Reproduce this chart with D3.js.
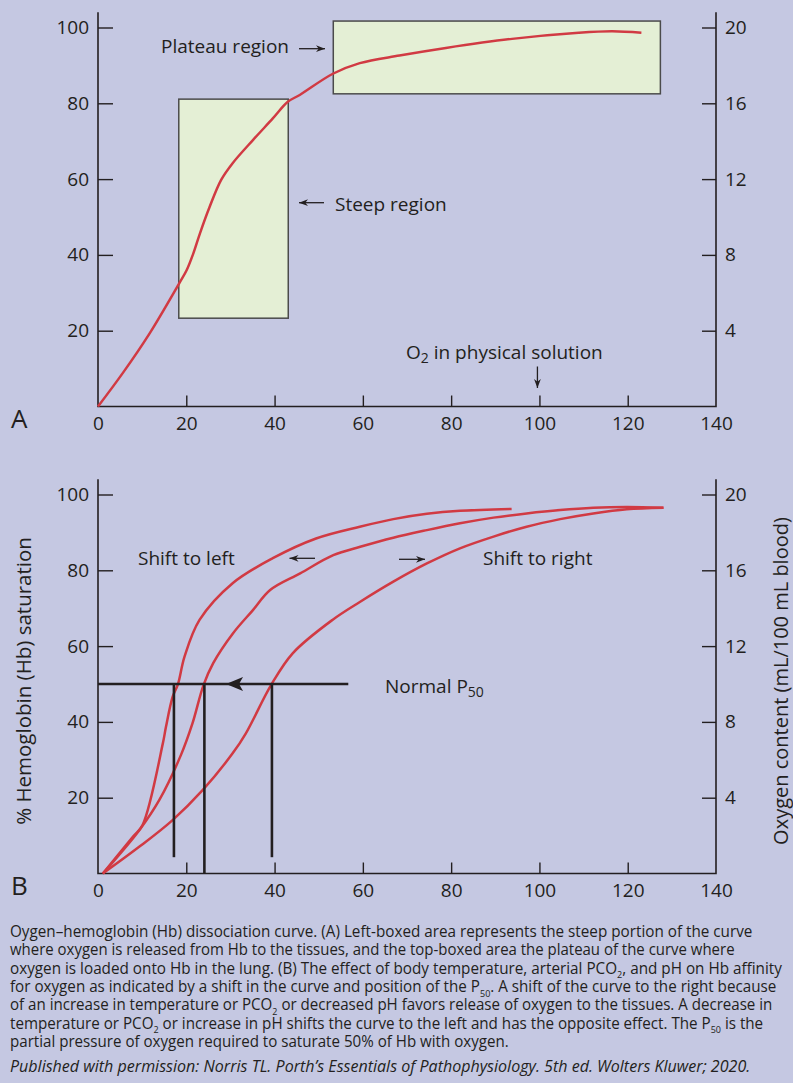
<!DOCTYPE html>
<html>
<head>
<meta charset="utf-8">
<script src="https://cdn.jsdelivr.net/npm/d3@7"></script>
<style>
  body { margin: 0; background: #c5c8e2; }
  svg { display: block; }
  text { font-family: 'Open Sans', sans-serif; fill: #231f20; }
</style>
</head>
<body>
<script>
// Panel A: single dissociation curve (PO2 mmHg vs % saturation)
const pO2A = [0, 5.6, 11.7, 18.4, 20.1, 21.6, 23.1, 25.3, 27.9, 30.5, 35.1, 39.6, 43, 45.7, 53.2, 59.3, 68.3, 78.8, 93.8, 108.9, 116.5, 123.1];
const satA = [0, 8.8, 19.3, 32.5, 36, 40.4, 45.7, 52.7, 59.8, 64.2, 70.3, 76, 80.4, 82.2, 87.8, 90.6, 92.6, 94.6, 97, 98.6, 99, 98.6];

// Panel B: shifted curves
const pO2Left = [1.1, 7.9, 10.1, 14.7, 15.4, 16.9, 18.1, 19.6, 23, 30.5, 39.6, 49.4, 59.3, 66.9, 74.5, 82, 93.7];
const satLeft = [0, 9.7, 12.8, 34.4, 38.7, 46.6, 49.9, 57.2, 66.9, 76.6, 83.2, 88.4, 91.5, 93.5, 94.9, 95.7, 96.2];
const pO2Normal = [1.1, 9.4, 13.9, 18.8, 21.4, 23.9, 26.1, 30.6, 35.1, 39, 45.8, 53.3, 59.4, 66.9, 74.5, 82, 89.6, 97.1, 104.7, 112.2, 119.8, 128.1];
const satNormal = [0, 11.5, 19.4, 31.3, 39.6, 49.7, 55.5, 63.4, 69.5, 74.8, 79.2, 84, 86.2, 88.6, 90.6, 92.4, 93.9, 95, 95.9, 96.5, 96.7, 96.5];
const pO2Right = [1.1, 9.4, 16.9, 23.7, 30.5, 33.5, 39.2, 44.1, 53.1, 59.4, 66.9, 74.5, 82, 89.6, 97.1, 104.7, 112.2, 119.8, 128.1];
const satRight = [0, 7.1, 14.1, 22, 31.7, 37, 49.7, 58.1, 66.9, 71.7, 77, 81.8, 85.8, 88.9, 91.5, 93.5, 95, 96.1, 96.5];

// boxes in panel A: [x0, x1, y0, y1]
const steepBox = [18.3, 43.1, 23.3, 81.1];
const plateauBox = [53.3, 127.4, 82.5, 101.7];

// P50 values (left shift, normal, right shift)
const p50s = [17.2, 24.1, 39.4];
const p50Bottom = [4.3, 0, 4.3];

const xTicks = [0, 20, 40, 60, 80, 100, 120, 140];
const yTicks = [20, 40, 60, 80, 100];
const y2Ticks = [4, 8, 12, 16, 20];

const caption = [
  'Oygen\u2013hemoglobin (Hb) dissociation curve. (A) Left-boxed area represents the steep portion of the curve',
  'where oxygen is released from Hb to the tissues, and the top-boxed area the plateau of the curve where',
  'oxygen is loaded onto Hb in the lung. (B) The effect of body temperature, arterial PCO_2, and pH on Hb affinity',
  'for oxygen as indicated by a shift in the curve and position of the P_50. A shift of the curve to the right because',
  'of an increase in temperature or PCO_2 or decreased pH favors release of oxygen to the tissues. A decrease in',
  'temperature or PCO_2 or increase in pH shifts the curve to the left and has the opposite effect. The P_50 is the',
  'partial pressure of oxygen required to saturate 50% of Hb with oxygen.'
];
const captionWidths = [743, 725, 773, 767, 763, 754, 499];
const credit = 'Published with permission: Norris TL. Porth\u2019s Essentials of Pathophysiology. 5th ed. Wolters Kluwer; 2020.';

const width = 793;
const height = 1083;
const ink = '#231f20';
const red = '#d13a43';

const svg = d3.select('body').append('svg')
  .attr('width', width)
  .attr('height', height);

svg.append('rect').attr('width', width).attr('height', height).attr('fill', '#c5c8e2');

const x = d3.scaleLinear().domain([0, 140]).range([98, 716]);
const y = d3.scaleLinear().domain([0, 100]).range([406.5, 27.5]);
const y2 = d3.scaleLinear().domain([0, 20]).range([406.5, 27.5]);

const line = d3.line()
  .x(d => x(d[0]))
  .y(d => y(d[1]))
  .curve(d3.curveCatmullRom.alpha(0.5));

function arrow(g, x1, y1, x2, y2) {
  g.append('line')
    .attr('x1', x1).attr('y1', y1).attr('x2', x2).attr('y2', y2)
    .attr('stroke', ink).attr('stroke-width', 1.3);
  const a = Math.atan2(y2 - y1, x2 - x1);
  const len = 9, half = 3.4;
  const bx = x2 - len * Math.cos(a), by = y2 - len * Math.sin(a);
  const nx = -Math.sin(a) * half, ny = Math.cos(a) * half;
  const mx = x2 - len * 0.7 * Math.cos(a), my = y2 - len * 0.7 * Math.sin(a);
  g.append('path')
    .attr('d', `M${x2},${y2}L${bx + nx},${by + ny}L${mx},${my}L${bx - nx},${by - ny}Z`)
    .attr('fill', ink);
}

function drawAxes(g, letter) {
  const xa = g.append('g')
    .attr('transform', `translate(0,${y(0)})`)
    .call(d3.axisBottom(x).tickValues(xTicks).tickSize(-11).tickPadding(10).tickFormat(d3.format('d')));
  const ya = g.append('g')
    .attr('transform', `translate(${x(0)},0)`)
    .call(d3.axisLeft(y).tickValues(yTicks).tickSize(-15).tickPadding(9));
  const y2a = g.append('g')
    .attr('transform', `translate(${x(140)},0)`)
    .call(d3.axisRight(y2).tickValues(y2Ticks).tickSize(-14).tickPadding(9));

  [xa, ya, y2a].forEach(a => {
    a.attr('font-family', null).attr('font-size', 19).attr('color', ink);
    a.select('.domain').remove();
    a.selectAll('.tick line').attr('stroke-width', 1.4);
  });
  xa.selectAll('.tick').filter(d => d === 0 || d === 140).select('line').remove();

  g.append('path')
    .attr('d', `M${x(0)},${y(104)}V${y(0)}H${x(140)}V${y(104)}`)
    .attr('fill', 'none').attr('stroke', ink).attr('stroke-width', 1.6);

  g.append('text')
    .attr('x', 11).attr('y', y(0) + 21.5)
    .attr('font-size', 26)
    .text(letter);
}

// ---------- Panel A ----------
const gA = svg.append('g');

[steepBox, plateauBox].forEach(b => {
  gA.append('rect')
    .attr('x', x(b[0])).attr('y', y(b[3]))
    .attr('width', x(b[1]) - x(b[0])).attr('height', y(b[2]) - y(b[3]))
    .attr('fill', '#e4efd5').attr('stroke', '#4b4b4b').attr('stroke-width', 1.5);
});

drawAxes(gA, 'A');

gA.append('path')
  .attr('d', line(d3.zip(pO2A, satA)))
  .attr('fill', 'none').attr('stroke', red).attr('stroke-width', 2.5);

gA.append('text').attr('x', 161).attr('y', 52.5).attr('font-size', 19).text('Plateau region');
arrow(gA, 299, 48.7, 325, 48.7);

arrow(gA, 324, 202.7, 299, 202.7);
gA.append('text').attr('x', 335).attr('y', 210.7).attr('font-size', 19).text('Steep region');

const o2 = gA.append('text').attr('x', 406).attr('y', 359).attr('font-size', 19);
o2.append('tspan').text('O');
o2.append('tspan').attr('font-size', 14).attr('dy', 4).text('2');
o2.append('tspan').attr('dy', -4).text(' in physical solution');
arrow(gA, x(100) - 2, 366.5, x(100) - 2, 388);

// ---------- Panel B ----------
const gB = svg.append('g').attr('transform', 'translate(0,467)');

drawAxes(gB, 'B');

[[pO2Left, satLeft], [pO2Normal, satNormal], [pO2Right, satRight]].forEach(([px, sy]) => {
  gB.append('path')
    .attr('d', line(d3.zip(px, sy)))
    .attr('fill', 'none').attr('stroke', red).attr('stroke-width', 2.5);
});

// P50 guide lines
gB.append('line')
  .attr('x1', x(0)).attr('x2', x(56.7)).attr('y1', y(50)).attr('y2', y(50))
  .attr('stroke', ink).attr('stroke-width', 2.6);
p50s.forEach((p, i) => {
  gB.append('line')
    .attr('x1', x(p)).attr('x2', x(p)).attr('y1', y(50)).attr('y2', y(p50Bottom[i]))
    .attr('stroke', ink).attr('stroke-width', 2.6);
});
const tipX = x(29), tipY = y(50);
gB.append('path')
  .attr('d', `M${tipX},${tipY}L${tipX + 17},${tipY - 7}L${tipX + 13},${tipY}L${tipX + 17},${tipY + 7}Z`)
  .attr('fill', ink);

const np = gB.append('text').attr('x', 385).attr('y', 225.7).attr('font-size', 19);
np.append('tspan').text('Normal P');
np.append('tspan').attr('font-size', 14).attr('dy', 4).text('50');

gB.append('text').attr('x', 138).attr('y', 98).attr('font-size', 19).text('Shift to left');
arrow(gB, 315, 91.3, 289.5, 91.3);
arrow(gB, 399, 92.3, 425, 92.3);
gB.append('text').attr('x', 483).attr('y', 98).attr('font-size', 19).text('Shift to right');

gB.append('text')
  .attr('transform', `translate(31,${y(50) - 3}) rotate(-90)`)
  .attr('text-anchor', 'middle').attr('font-size', 20.5)
  .text('% Hemoglobin (Hb) saturation');
gB.append('text')
  .attr('transform', `translate(788,${y(50) - 3}) rotate(-90)`)
  .attr('text-anchor', 'middle').attr('font-size', 20)
  .text('Oxygen content (mL/100 mL blood)');

// ---------- Caption ----------
const cap = svg.append('g');
caption.forEach((s, i) => {
  const base = 937 + i * 18.35;
  const t = cap.append('text')
    .attr('font-size', 16)
    .attr('transform', `translate(10,${base})`);
  let shift = 0;
  s.split(/_(\d+)/).forEach((part, j) => {
    if (j % 2 === 0) {
      if (part) t.append('tspan').attr('dy', -shift).text(part);
      shift = 0;
    } else {
      t.append('tspan').attr('font-size', 9.5).attr('dy', 4.5).text(part);
      shift = 4.5;
    }
  });
  const w = t.node().getComputedTextLength();
  t.attr('transform', `translate(10,${base}) scale(${captionWidths[i] / w},1)`);
});
const cr = cap.append('text')
  .attr('font-size', 16).attr('font-style', 'italic')
  .text(credit);
const crw = cr.node().getComputedTextLength();
cr.attr('transform', `translate(10,1071.5) scale(${741 / crw},1)`);
</script>
</body>
</html>
